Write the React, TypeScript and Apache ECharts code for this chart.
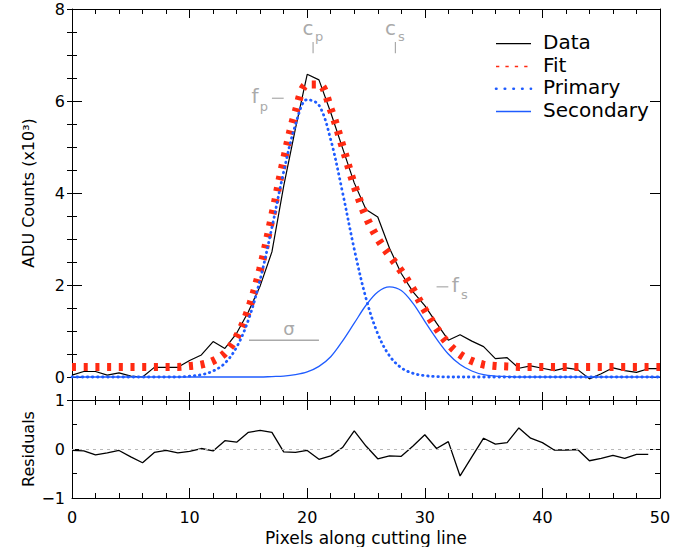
import React, { useEffect, useRef } from "react";
import * as echarts from "echarts";

// pixel positions along the cut
const pixelPos = [0,1,2,3,4,5,6,7,8,9,10,11,12,13,14,15,16,17,18,19,20,21,22,23,24,25,26,27,28,29,30,31,32,33,34,35,36,37,38,39,40,41,42,43,44,45,46,47,48,49,50];
// ADU counts (x10^3)
const dataCounts = [0.04,0.12,0.12,0.04,0.09,0.02,0.00,0.21,0.21,0.21,0.36,0.48,0.77,0.62,0.95,1.42,1.98,2.72,4.15,5.40,6.58,6.46,5.75,4.98,4.22,3.64,3.48,2.80,2.25,1.85,1.55,1.17,0.80,0.92,0.78,0.66,0.40,0.42,0.19,0.24,0.19,0.14,0.20,0.16,-0.04,0.07,0.20,0.14,0.10,0.18,0.18];
const fitCounts = [0.22,0.22,0.22,0.22,0.22,0.22,0.22,0.22,0.22,0.22,0.24,0.27,0.35,0.52,0.87,1.46,2.34,3.48,4.70,5.75,6.36,6.36,5.82,5.02,4.17,3.49,3.01,2.64,2.30,1.90,1.46,1.06,0.72,0.49,0.35,0.27,0.24,0.23,0.22,0.22,0.22,0.22,0.22,0.22,0.22,0.22,0.22,0.22,0.22,0.22,0.22];
const primaryCounts = [0,0,0,0,0,0,0,0,0,0,0.02,0.05,0.13,0.30,0.65,1.24,2.12,3.25,4.46,5.48,6.03,5.91,5.16,4.02,2.78,1.71,0.94,0.46,0.20,0.08,0.03,0.01,0,0,0,0,0,0,0,0,0,0,0,0,0,0,0,0,0,0,0];
const secondaryCounts = [0,0,0,0,0,0,0,0,0,0,0,0,0,0,0,0,0,0.01,0.02,0.05,0.11,0.23,0.44,0.78,1.17,1.56,1.85,1.96,1.88,1.60,1.21,0.83,0.50,0.27,0.13,0.05,0.02,0.01,0,0,0,0,0,0,0,0,0,0,0,0,0];
// residuals at pixel positions 0..49
const residPos = [0,1,2,3,4,5,6,7,8,9,10,11,12,13,14,15,16,17,18,19,20,21,22,23,24,25,26,27,28,29,30,31,32,33,34,35,36,37,38,39,40,41,42,43,44,45,46,47,48,49];
const residuals = [-0.03,-0.04,-0.12,-0.08,-0.03,-0.16,-0.28,-0.07,-0.03,-0.08,-0.05,0.01,-0.04,0.17,0.14,0.34,0.38,0.34,-0.06,-0.07,-0.03,-0.21,-0.14,0.03,0.37,0.06,-0.20,-0.14,-0.15,0.06,0.29,0.01,0.15,-0.55,-0.16,0.22,0.10,0.13,0.43,0.22,0.13,-0.02,-0.02,-0.01,-0.24,-0.19,-0.13,-0.19,-0.11,-0.11];

const topYTicks = [0, 2, 4, 6, 8];
const legendLabels = ["Data", "Fit", "Primary", "Secondary"];

// annotations in data coordinates
const centerMarks = [
  { main: "c", sub: "p", x: 20.5 },
  { main: "c", sub: "s", x: 27.5 },
];
const centerTickRange = [7.04, 7.28];
const peakMarks = [
  { main: "f", sub: "p", x0: 17.0, x1: 18.0, y: 6.06, side: "left" },
  { main: "f", sub: "s", x0: 31.0, x1: 32.0, y: 1.96, side: "right" },
];
const sigmaBar = { x0: 15.05, x1: 21.0, y: 0.8 };

const FONT = "DejaVu Sans";
const RED = "#ff2a12";
const BLUE = "#1f5cff";
const GRAY = "#aaaaaa";

export default function App() {
  const ref = useRef<HTMLDivElement>(null);
  useEffect(() => {
    const chart = echarts.init(ref.current!, null, { renderer: "svg" });
    const black = { color: "#000", width: 1 };
    const xBase = (grid: number, pos: string, major: number, minor: number, extra: any = {}) => ({
      type: "value", gridIndex: grid, position: pos, min: 0, max: 50, interval: 10,
      axisLine: { show: true, onZero: false, lineStyle: black },
      axisTick: { show: true, inside: true, length: major, lineStyle: black },
      minorTick: { show: true, splitNumber: 5, length: minor, lineStyle: black },
      axisLabel: { show: false },
      splitLine: { show: false }, minorSplitLine: { show: false },
      ...extra,
    });
    const topYMajor = (pos: string, labels: boolean) => ({
      type: "value", gridIndex: 0, position: pos, min: -0.5, max: 8, interval: 0.5,
      axisLine: { show: true, onZero: false, lineStyle: black },
      axisTick: { show: true, inside: true, length: 10, customValues: topYTicks, lineStyle: black },
      axisLabel: {
        show: labels, customValues: topYTicks, margin: 7, fontSize: 16, fontFamily: FONT, color: "#000",
        formatter: (v: number) => (v >= 0 && Math.abs(v % 2) < 1e-9 ? String(v) : ""),
      },
      splitLine: { show: false },
    });
    const topYMinor = (pos: string) => ({
      type: "value", gridIndex: 0, position: pos, min: -0.5, max: 8, interval: 0.5,
      axisLine: { show: false },
      axisTick: { show: true, inside: true, length: 5, lineStyle: black },
      axisLabel: { show: false },
      splitLine: { show: false },
    });
    const resY = (pos: string, labels: boolean) => ({
      type: "value", gridIndex: 1, position: pos, min: -1, max: 1, interval: 1,
      axisLine: { show: true, onZero: false, lineStyle: black },
      axisTick: { show: true, inside: true, length: 10, lineStyle: black },
      minorTick: { show: true, splitNumber: 2, length: 5, lineStyle: black },
      axisLabel: {
        show: labels, margin: 7, fontSize: 16, fontFamily: FONT, color: "#000",
        formatter: (v: number) => (v < 0 ? "\u2212" + Math.abs(v) : String(v)),
      },
      splitLine: { show: false }, minorSplitLine: { show: false },
    });

    const pairs = (xs: number[], ys: number[]) => xs.map((x, i) => [x, ys[i]]);

    chart.setOption({
      animation: false,
      backgroundColor: "#fff",
      textStyle: { fontFamily: FONT },
      grid: [
        { left: 72, right: 23, top: 9, height: 391 },
        { left: 72, right: 23, top: 400, height: 98 },
      ],
      xAxis: [
        xBase(0, "bottom", 8, 4),
        xBase(0, "top", 9, 5),
        xBase(1, "bottom", 10, 5, {
          axisLabel: { show: true, margin: 11, fontSize: 16, fontFamily: FONT, color: "#000", showMinLabel: true, showMaxLabel: true },
          name: "Pixels along cutting line", nameLocation: "middle", nameGap: 31,
          nameTextStyle: { fontSize: 17, fontFamily: FONT, color: "#000" },
        }),
        xBase(1, "top", 10, 5),
      ],
      yAxis: [
        topYMajor("left", true),
        topYMinor("left"),
        topYMajor("right", false),
        topYMinor("right"),
        resY("left", true),
        resY("right", false),
      ],
      series: [
        {
          name: "Data", type: "line", xAxisIndex: 0, yAxisIndex: 0, symbol: "none",
          data: pairs(pixelPos, dataCounts), lineStyle: { color: "#000", width: 1.2 }, z: 2,
        },
        {
          name: "Fit", type: "line", xAxisIndex: 0, yAxisIndex: 0, symbol: "none", smooth: 0.35,
          data: pairs(pixelPos, fitCounts),
          lineStyle: { color: RED, width: 8, type: [4, 7.7], cap: "butt" }, z: 3,
        },
        {
          name: "Primary", type: "line", xAxisIndex: 0, yAxisIndex: 0, symbol: "none", smooth: 0.35,
          data: pairs(pixelPos, primaryCounts),
          lineStyle: { color: BLUE, width: 2.8, type: [0.5, 4.6], cap: "round" }, z: 4,
        },
        {
          name: "Secondary", type: "line", xAxisIndex: 0, yAxisIndex: 0, symbol: "none", smooth: 0.35,
          data: pairs(pixelPos, secondaryCounts),
          lineStyle: { color: BLUE, width: 1.3 }, z: 4,
        },
        {
          name: "Residuals", type: "line", xAxisIndex: 2, yAxisIndex: 4, symbol: "none",
          data: pairs(residPos, residuals), lineStyle: { color: "#000", width: 1.3 }, z: 3,
          markLine: {
            silent: true, symbol: ["none", "none"], label: { show: false },
            lineStyle: { color: "#b8b8b8", type: [3, 4], width: 1 },
            data: [{ yAxis: 0 }],
          },
        },
      ],
    });

    const toPx = (x: number, y: number) => chart.convertToPixel({ gridIndex: 0 }, [x, y]) as number[];
    const g: any[] = [];

    // center marks
    centerMarks.forEach((m) => {
      const [tx, ty1] = toPx(m.x, centerTickRange[1]);
      const [, ty2] = toPx(m.x, centerTickRange[0]);
      g.push({ type: "line", shape: { x1: tx, y1: ty1, x2: tx, y2: ty2 }, style: { stroke: GRAY, lineWidth: 1.2 } });
      g.push({ type: "text", x: tx - 5, y: ty1 - 14, style: { text: m.main, fontSize: 20, fontFamily: FONT, fill: GRAY, align: "center", verticalAlign: "middle" } });
      g.push({ type: "text", x: tx + 6, y: ty1 - 6, style: { text: m.sub, fontSize: 13, fontFamily: FONT, fill: GRAY, align: "center", verticalAlign: "middle" } });
    });
    // peak marks
    peakMarks.forEach((m) => {
      const [x0, y] = toPx(m.x0, m.y);
      const [x1] = toPx(m.x1, m.y);
      g.push({ type: "line", shape: { x1: x0, y1: y, x2: x1, y2: y }, style: { stroke: GRAY, lineWidth: 1.2 } });
      const fx = m.side === "left" ? x0 - 17 : x1 + 7;
      const sx = m.side === "left" ? x0 - 8 : x1 + 16;
      g.push({ type: "text", x: fx, y: y - 2, style: { text: m.main, fontSize: 20, fontFamily: FONT, fill: GRAY, align: "center", verticalAlign: "middle" } });
      g.push({ type: "text", x: sx, y: y + 8, style: { text: m.sub, fontSize: 13, fontFamily: FONT, fill: GRAY, align: "center", verticalAlign: "middle" } });
    });
    // sigma bar
    {
      const [x0, y] = toPx(sigmaBar.x0, sigmaBar.y);
      const [x1] = toPx(sigmaBar.x1, sigmaBar.y);
      g.push({ type: "line", shape: { x1: x0, y1: y, x2: x1, y2: y }, style: { stroke: GRAY, lineWidth: 1.5 } });
      g.push({ type: "text", x: (x0 + x1) / 2 + 5, y: y - 12, style: { text: "\u03c3", fontSize: 18, fontFamily: FONT, fill: GRAY, align: "center", verticalAlign: "middle" } });
    }
    // y-axis title
    {
      const [, yc] = toPx(0, 4);
      g.push({ type: "text", x: 28, y: yc, rotation: Math.PI / 2, style: { text: "ADU Counts (x10\u00b3)", fontSize: 16, fontFamily: FONT, fill: "#000", align: "center", verticalAlign: "middle" } });
    }
    // residual y title
    {
      const [, yc] = chart.convertToPixel({ gridIndex: 1 }, [0, 0]) as number[];
      g.push({ type: "text", x: 28, y: yc, rotation: Math.PI / 2, style: { text: "Residuals", fontSize: 16, fontFamily: FONT, fill: "#000", align: "center", verticalAlign: "middle" } });
    }
    // legend
    const legendRows = [
      { y: 41.7, stroke: "#000", width: 1.2, dash: null as any, cap: "butt" },
      { y: 64.5, stroke: RED, width: 1.5, dash: [3.3, 6.1], cap: "butt" },
      { y: 86.7, stroke: BLUE, width: 2.6, dash: [0.5, 8.2], cap: "round" },
      { y: 109.5, stroke: BLUE, width: 1.3, dash: null as any, cap: "butt" },
    ];
    legendRows.forEach((r, i) => {
      g.push({ type: "line", shape: { x1: 496, y1: r.y + 2, x2: 531, y2: r.y + 2 }, style: { stroke: r.stroke, lineWidth: r.width, lineDash: r.dash, lineCap: r.cap } });
      g.push({ type: "text", x: 543, y: r.y, style: { text: legendLabels[i], fontSize: 20, fontFamily: FONT, fill: "#000", align: "left", verticalAlign: "middle" } });
    });

    chart.setOption({ graphic: g });
    return () => chart.dispose();
  }, []);
  return <div ref={ref} style={{ position: "fixed", left: 0, top: 0, width: 683, height: 547, background: "#fff" }} />;
}
